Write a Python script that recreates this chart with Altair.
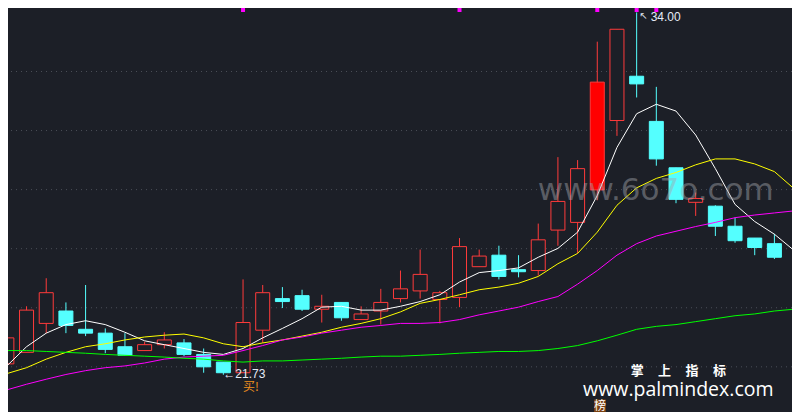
import altair as alt
import pandas as pd

# ---------------- data ----------------
idx = list(range(40))
opens = [22.10, 22.49, 23.47, 23.89, 23.27, 23.14, 22.68, 22.55, 22.75, 22.81,
         22.42, 22.16, 21.80, 23.24, 24.31, 24.41, 23.95, 24.18, 23.60, 23.89,
         24.31, 24.57, 24.28, 24.35, 25.39, 25.78, 25.29, 25.26, 26.63, 26.89,
         27.99, 30.34, 31.84, 30.31, 28.74, 27.57, 27.44, 26.76, 26.36, 26.17]
closes = [22.98, 23.92, 24.51, 23.40, 23.14, 22.59, 22.39, 22.75, 22.91, 22.42,
          22.00, 21.80, 23.50, 24.51, 24.21, 23.95, 24.05, 23.66, 23.79, 24.18,
          24.64, 25.13, 24.51, 26.07, 25.75, 25.06, 25.22, 26.30, 27.60, 28.71,
          31.64, 33.43, 31.58, 29.04, 27.67, 27.70, 26.76, 26.27, 26.04, 25.71]
highs = [22.98, 24.05, 25.00, 24.18, 24.77, 23.30, 23.14, 22.85, 23.17, 22.94,
         22.62, 22.16, 24.96, 24.77, 24.70, 24.61, 24.44, 24.18, 24.05, 24.64,
         25.26, 25.97, 24.57, 26.36, 25.97, 26.10, 25.78, 26.85, 29.10, 29.00,
         33.01, 33.43, 34.00, 31.48, 28.74, 27.90, 27.47, 27.05, 26.36, 26.50]
lows = [22.10, 22.49, 23.14, 23.14, 23.04, 22.46, 22.39, 22.55, 22.62, 22.36,
        21.80, 21.73, 21.80, 22.81, 23.99, 23.89, 23.50, 23.56, 23.60, 23.43,
        24.18, 24.31, 23.47, 24.02, 25.39, 24.96, 25.03, 25.09, 26.10, 25.84,
        27.64, 29.82, 31.12, 28.81, 27.54, 27.11, 26.43, 26.20, 25.78, 25.65]

ma_idx = list(range(41))
ma5 = [22.03, 22.68, 23.14, 23.43, 23.56, 23.43, 23.17, 22.88, 22.75, 22.62,
       22.49, 22.42, 22.62, 22.98, 23.30, 23.63, 24.02, 24.05, 23.92, 23.92,
       24.05, 24.21, 24.44, 24.87, 25.19, 25.26, 25.35, 25.71, 26.01, 26.56,
       27.80, 29.43, 30.57, 30.89, 30.66, 29.85, 28.71, 27.50, 26.92, 26.49, 25.94]
ma10 = [21.77, 21.97, 22.26, 22.49, 22.68, 22.78, 22.91, 23.01, 23.07, 23.11,
        22.98, 22.78, 22.68, 22.81, 22.91, 23.04, 23.17, 23.34, 23.47, 23.63,
        23.86, 24.15, 24.28, 24.44, 24.61, 24.70, 24.83, 25.06, 25.49, 25.84,
        26.56, 27.47, 28.06, 28.38, 28.58, 28.84, 29.04, 29.04, 28.87, 28.61, 28.03]
ma20 = [21.22, 21.41, 21.58, 21.74, 21.87, 21.97, 22.03, 22.13, 22.26, 22.33,
        22.36, 22.39, 22.55, 22.72, 22.91, 23.01, 23.14, 23.24, 23.34, 23.40,
        23.47, 23.47, 23.50, 23.60, 23.76, 23.89, 24.02, 24.21, 24.38, 24.80,
        25.26, 25.78, 26.17, 26.43, 26.59, 26.75, 26.89, 27.05, 27.14, 27.21, 27.28]
ma60 = [22.55, 22.55, 22.52, 22.49, 22.46, 22.42, 22.39, 22.36, 22.33, 22.29,
        22.26, 22.20, 22.16, 22.20, 22.20, 22.23, 22.26, 22.29, 22.33, 22.36,
        22.36, 22.39, 22.42, 22.46, 22.49, 22.52, 22.52, 22.55, 22.62, 22.72,
        22.88, 23.07, 23.27, 23.37, 23.43, 23.53, 23.63, 23.73, 23.79, 23.89, 23.95]

grid_levels = [22, 24, 26, 28, 30, 32]
signal_idx = [12, 23, 30, 32, 33]
buy_idx = [12]
buy_text = ["买!"]
brand_chars = ["掌", "上", "指", "标"]
brand_url = ["www.palmindex.com"]
badge_text = ["榜"]
watermark = ["www.6o7o.com"]

# ---------------- styling ----------------
BG = "#1c1f27"
RED = "#ff3b3b"
CYAN = "#54ffff"
W, H = 784, 404
SX, SY = W / 800, H / 420

df = pd.DataFrame(dict(i=idx, open=opens, close=closes, high=highs, low=lows))
prev = df["close"].shift(1)
df["kind"] = "down"
df.loc[df["close"] >= df["open"], "kind"] = "up"
df.loc[(df["close"] / prev) >= 1.095, "kind"] = "limit"

xs = alt.Scale(domain=[0.3117, 39.64], nice=False, zero=False)
ys = alt.Scale(domain=[20.47, 34.15], nice=False, zero=False)
X = alt.X("i:Q", scale=xs, axis=None)

kinds = ["up", "limit", "down"]
stroke_enc = alt.Stroke("kind:N", scale=alt.Scale(domain=kinds, range=[RED, RED, CYAN]), legend=None)
fill_enc = alt.Fill("kind:N", scale=alt.Scale(domain=kinds, range=[BG, "#ff0000", CYAN]), legend=None)

grid = alt.Chart(pd.DataFrame({"v": grid_levels})).mark_rule(
    color="#4a4e58", strokeDash=[1, 4], strokeWidth=1
).encode(y=alt.Y("v:Q", scale=ys, axis=None))

wicks = alt.Chart(df).mark_rule(strokeWidth=1, clip=True).encode(
    x=X, y=alt.Y("low:Q", scale=ys, axis=None), y2="high:Q", stroke=stroke_enc
)
bodies = alt.Chart(df).mark_bar(size=14, strokeWidth=1, clip=True).encode(
    x=X, y=alt.Y("open:Q", scale=ys, axis=None), y2="close:Q",
    fill=fill_enc, stroke=stroke_enc
)

ma = pd.DataFrame(dict(i=ma_idx, MA5=ma5, MA10=ma10, MA20=ma20, MA60=ma60))
lines = alt.Chart(ma).transform_fold(
    ["MA5", "MA10", "MA20", "MA60"], as_=["ma", "v"]
).mark_line(strokeWidth=1, clip=True).encode(
    x=X, y=alt.Y("v:Q", scale=ys, axis=None),
    color=alt.Color("ma:N", scale=alt.Scale(domain=["MA5", "MA10", "MA20", "MA60"],
                                            range=["#ffffff", "#ffff00", "#ff00ff", "#00ff00"]),
                    legend=None)
)

markers = alt.Chart(pd.DataFrame({"i": signal_idx})).mark_square(
    size=16, color="#ff00ff", opacity=1
).encode(x=X, y=alt.value(2))

mx = df.loc[df["high"].idxmax()]
mn = df.loc[df["low"].idxmin()]
maxdf = pd.DataFrame({"i": [mx["i"]], "v": [mx["high"]], "t": [f"{mx['high']:.2f}"]})
mindf = pd.DataFrame({"i": [mn["i"]], "v": [mn["low"]], "t": [f"←{mn['low']:.2f}"]})

max_arrow = alt.Chart(maxdf).mark_text(
    text="↖", align="center", baseline="middle", dx=7, dy=4, fontSize=10,
    color="#e6ecf7", font="DejaVu Sans"
).encode(x=X, y=alt.Y("v:Q", scale=ys, axis=None))
max_label = alt.Chart(maxdf).mark_text(
    align="left", baseline="middle", dx=14, dy=5, fontSize=12, color="#e6ecf7", font="Liberation Sans"
).encode(x=X, y=alt.Y("v:Q", scale=ys, axis=None), text="t:N")
min_label = alt.Chart(mindf).mark_text(
    align="left", baseline="middle", dx=0, dy=-1, fontSize=12, color="#e6ecf7", font="Liberation Sans"
).encode(x=X, y=alt.Y("v:Q", scale=ys, axis=None), text="t:N")

buydf = df[df["i"].isin(buy_idx)].assign(t=buy_text)
buy = alt.Chart(buydf).mark_text(
    align="left", baseline="middle", dx=0, dy=14, fontSize=12, color="#f0901e",
    font="Noto Sans CJK SC"
).encode(x=X, y=alt.Y("low:Q", scale=ys, axis=None), text="t:N")

wm = alt.Chart(pd.DataFrame({"t": watermark})).mark_text(
    align="center", baseline="alphabetic", fontSize=31, font="DejaVu Sans",
    color="#a3a6ad", opacity=0.45
).encode(x=alt.value(661 * SX), y=alt.value(200 * SY), text="t:N")

brand_layers = []
for k, ch in enumerate(brand_chars):
    brand_layers.append(
        alt.Chart(pd.DataFrame({"t": [ch]})).mark_text(
            align="center", baseline="middle", fontSize=13, fontWeight="bold",
            font="Noto Sans CJK SC", color="#ffffff"
        ).encode(x=alt.value((642 + 28 * k) * SX), y=alt.value(377 * SY), text="t:N")
    )
url = alt.Chart(pd.DataFrame({"t": brand_url})).mark_text(
    align="center", baseline="alphabetic", fontSize=19.5, font="Open Sans", color="#ffffff"
).encode(x=alt.value(684 * SX), y=alt.value(403 * SY), text="t:N")
badge_bg = alt.Chart(pd.DataFrame({"t": badge_text})).mark_rect(color="#7b4010").encode(
    x=alt.value(598 * SX), x2=alt.value(610 * SX), y=alt.value(407 * SY), y2=alt.value(421 * SY)
)
badge = alt.Chart(pd.DataFrame({"t": badge_text})).mark_text(
    align="center", baseline="middle", fontSize=12, font="Noto Sans CJK SC", color="#ffffff"
).encode(x=alt.value(604 * SX), y=alt.value(414 * SY), text="t:N")

chart = alt.layer(
    grid, wicks, bodies, lines, wm, markers, max_arrow, max_label, min_label, buy,
    *brand_layers, url, badge_bg, badge
).properties(
    width=W, height=H, padding=0, background=BG,
    autosize=alt.AutoSizeParams(type="none")
).configure_view(strokeWidth=0)

chart.save("out.html", embed_options={"renderer": "svg", "actions": False})
